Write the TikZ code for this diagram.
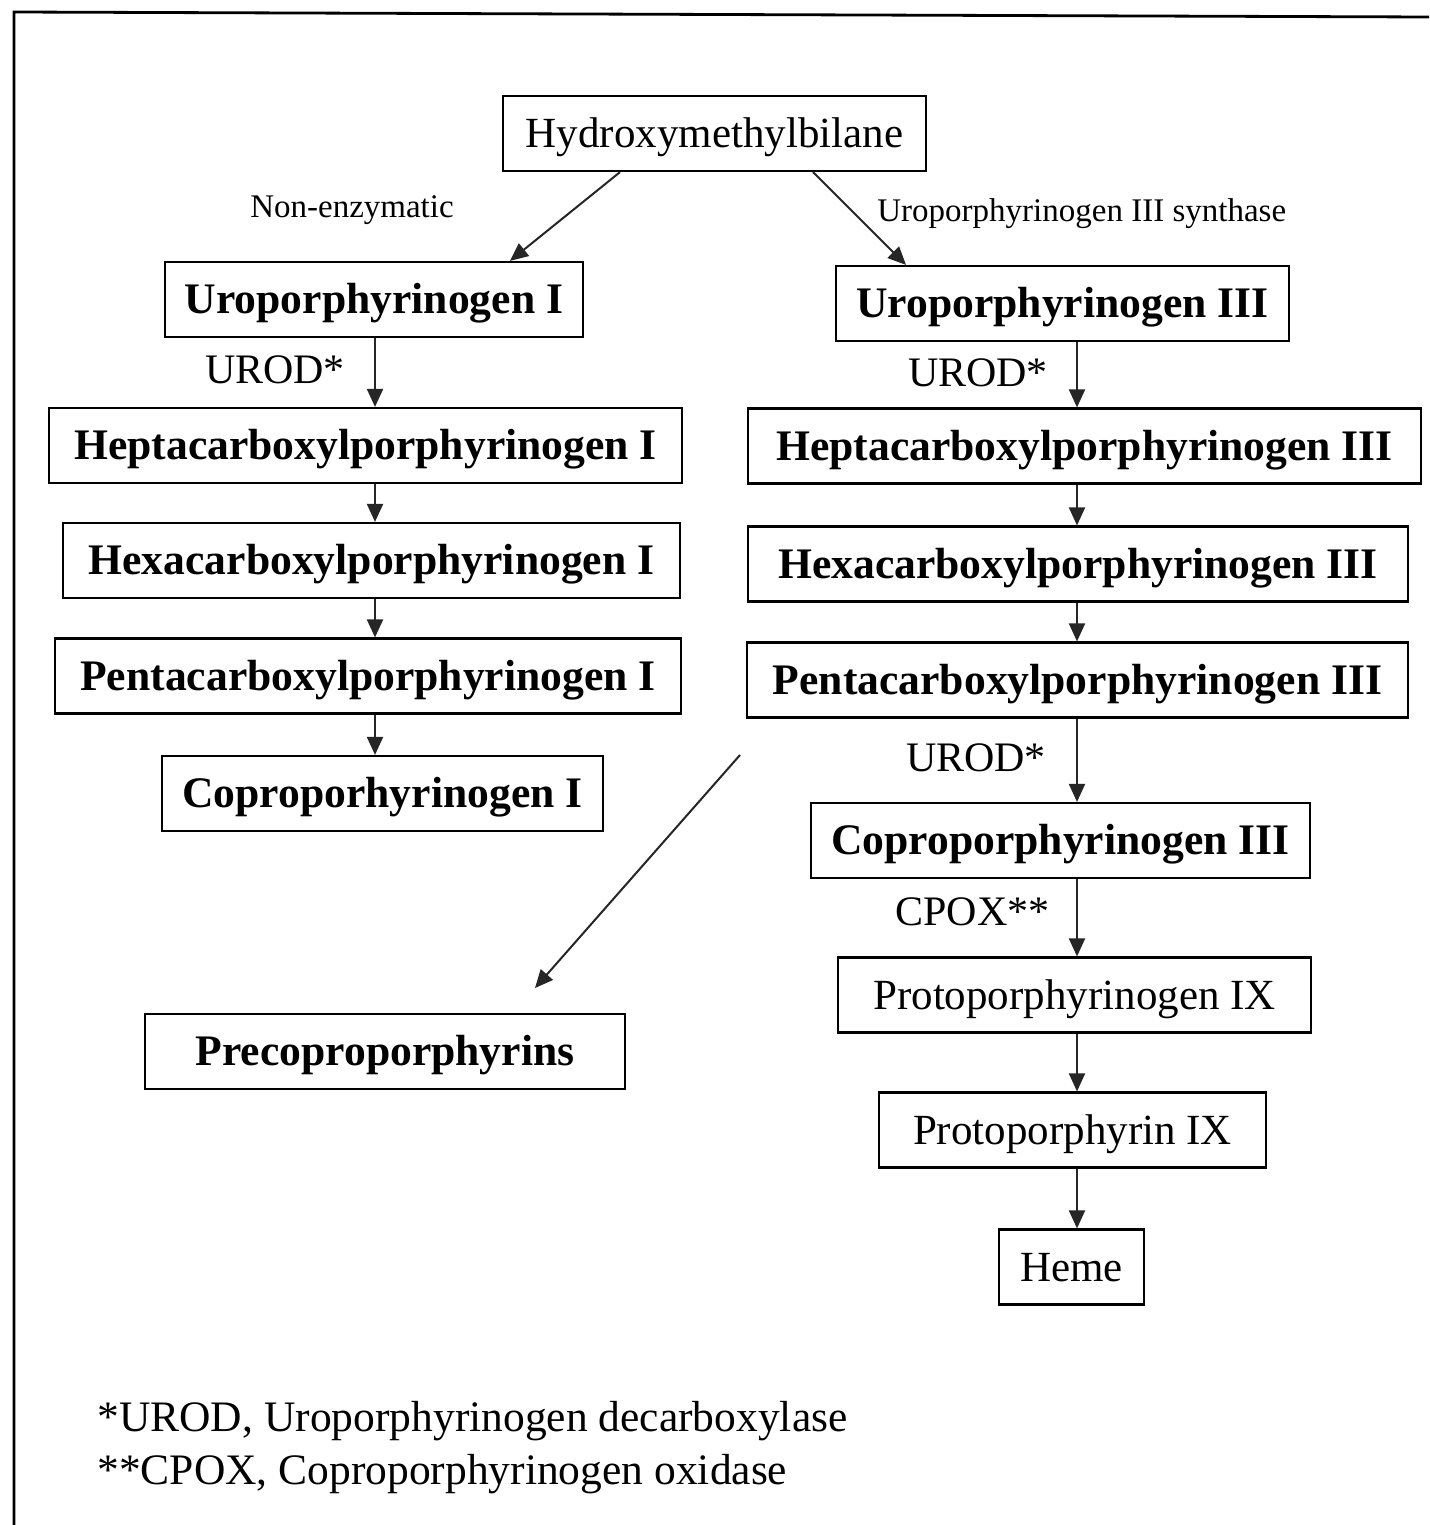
\documentclass[tikz,border=0pt]{standalone}
\usepackage{fontspec}
\setmainfont{Liberation Serif}
\usetikzlibrary{arrows.meta,calc}
\begin{document}
\begin{tikzpicture}[x=0.5pt,y=-0.5pt,
 box/.style={draw, line width=1.1pt, inner sep=0pt, minimum height=37.5pt, text height=14.3pt, text depth=0pt, font=\fontsize{21.5}{26}\selectfont},
 bbox/.style={box, font=\fontsize{21.8}{26}\selectfont\bfseries},
 arr/.style={-{Triangle[length=9pt,width=8pt]}, line width=1pt, draw=black!85, fill=black!85},
 lab/.style={inner sep=0pt, text height=10.9pt, text depth=0pt, font=\fontsize{16.5}{20}\selectfont},
 enz/.style={inner sep=0pt, text height=13.9pt, text depth=0pt, font=\fontsize{21}{25}\selectfont},
 foot/.style={inner sep=0pt, anchor=base west, font=\fontsize{21.75}{26}\selectfont},
]
\useasboundingbox (0,0) rectangle (1429,1525);
\fill[white] (0,0) rectangle (1429,1525);
% frame
\draw[line width=1.4pt] (1429,17) -- (14,12) -- (14,1525);

% nodes
\node[box,  minimum width=211.5pt] (hmb)  at (714.5,133.5) {Hydroxymethylbilane};
\node[bbox, minimum width=209pt]   (uro1) at (374,299.5) {Uroporphyrinogen I};
\node[bbox, minimum width=226.5pt] (uro3) at (1062.5,303.5) {Uroporphyrinogen III};
\node[bbox, minimum width=316.5pt] (hep1) at (365.5,445.5) {Heptacarboxylporphyrinogen I};
\node[bbox, minimum width=336.5pt] (hep3) at (1084.5,446) {Heptacarboxylporphyrinogen III};
\node[bbox, minimum width=308.5pt] (hex1) at (371.5,560.5) {Hexacarboxylporphyrinogen I};
\node[bbox, minimum width=330pt]   (hex3) at (1078,564) {Hexacarboxylporphyrinogen III};
\node[bbox, minimum width=313pt]   (pen1) at (368,676) {Pentacarboxylporphyrinogen I};
\node[bbox, minimum width=330.5pt] (pen3) at (1077.5,680) {Pentacarboxylporphyrinogen III};
\node[bbox, minimum width=220.5pt] (cop1) at (382.5,793.5) {Coproporhyrinogen I};
\node[bbox, minimum width=249.5pt] (cop3) at (1060.5,840.5) {Coproporphyrinogen III};
\node[box,  minimum width=236.5pt] (ptg)  at (1074.5,995) {Protoporphyrinogen IX};
\node[box,  minimum width=193.5pt] (pt)   at (1072.5,1130) {Protoporphyrin IX};
\node[box,  minimum width=72.5pt]  (heme) at (1071.5,1267) {Heme};
\node[bbox, minimum width=240pt]   (pre)  at (385,1051.5) {Precoproporphyrins};

% labels
\node[lab] (lne) at (352,207) {Non-enzymatic};
\node[lab, anchor=west] (lus) at (877,211) {Uroporphyrinogen III synthase};
\node[enz] (e1) at (275,370) {UROD*};
\node[enz] (e2) at (978,373) {UROD*};
\node[enz] (e3) at (976,758) {UROD*};
\node[enz] (e4) at (972.5,912) {CPOX**};

% column coordinates
\coordinate (lc) at (375,0);
\coordinate (rc) at (1077,0);

% arrows
\draw[arr] ($(hmb.south)+(-94.5,0)$) -- ($(uro1.north)+(136,0)$);
\draw[arr] ($(hmb.south)+(98.5,0)$) -- ($(uro3.north)+(-156.5,0)$);

\draw[arr] (lc |- uro1.south) -- (lc |- hep1.north);
\draw[arr] (lc |- hep1.south) -- (lc |- hex1.north);
\draw[arr] (lc |- hex1.south) -- (lc |- pen1.north);
\draw[arr] (lc |- pen1.south) -- (lc |- cop1.north);

\draw[arr] (rc |- uro3.south) -- (rc |- hep3.north);
\draw[arr] (rc |- hep3.south) -- (rc |- hex3.north);
\draw[arr] (rc |- hex3.south) -- (rc |- pen3.north);
\draw[arr] (rc |- pen3.south) -- (rc |- cop3.north);
\draw[arr] (rc |- cop3.south) -- (rc |- ptg.north);
\draw[arr] (rc |- ptg.south) -- (rc |- pt.north);
\draw[arr] (rc |- pt.south) -- (rc |- heme.north);

\coordinate (ds) at (740,755);
\coordinate (de) at (535,988);
\draw[arr] (ds) -- (de);

% footnotes
\node[foot] (f1) at (97,1431) {*UROD, Uroporphyrinogen decarboxylase};
\node[foot] (f2) at (97,1484) {**CPOX, Coproporphyrinogen oxidase};
\end{tikzpicture}
\end{document}
